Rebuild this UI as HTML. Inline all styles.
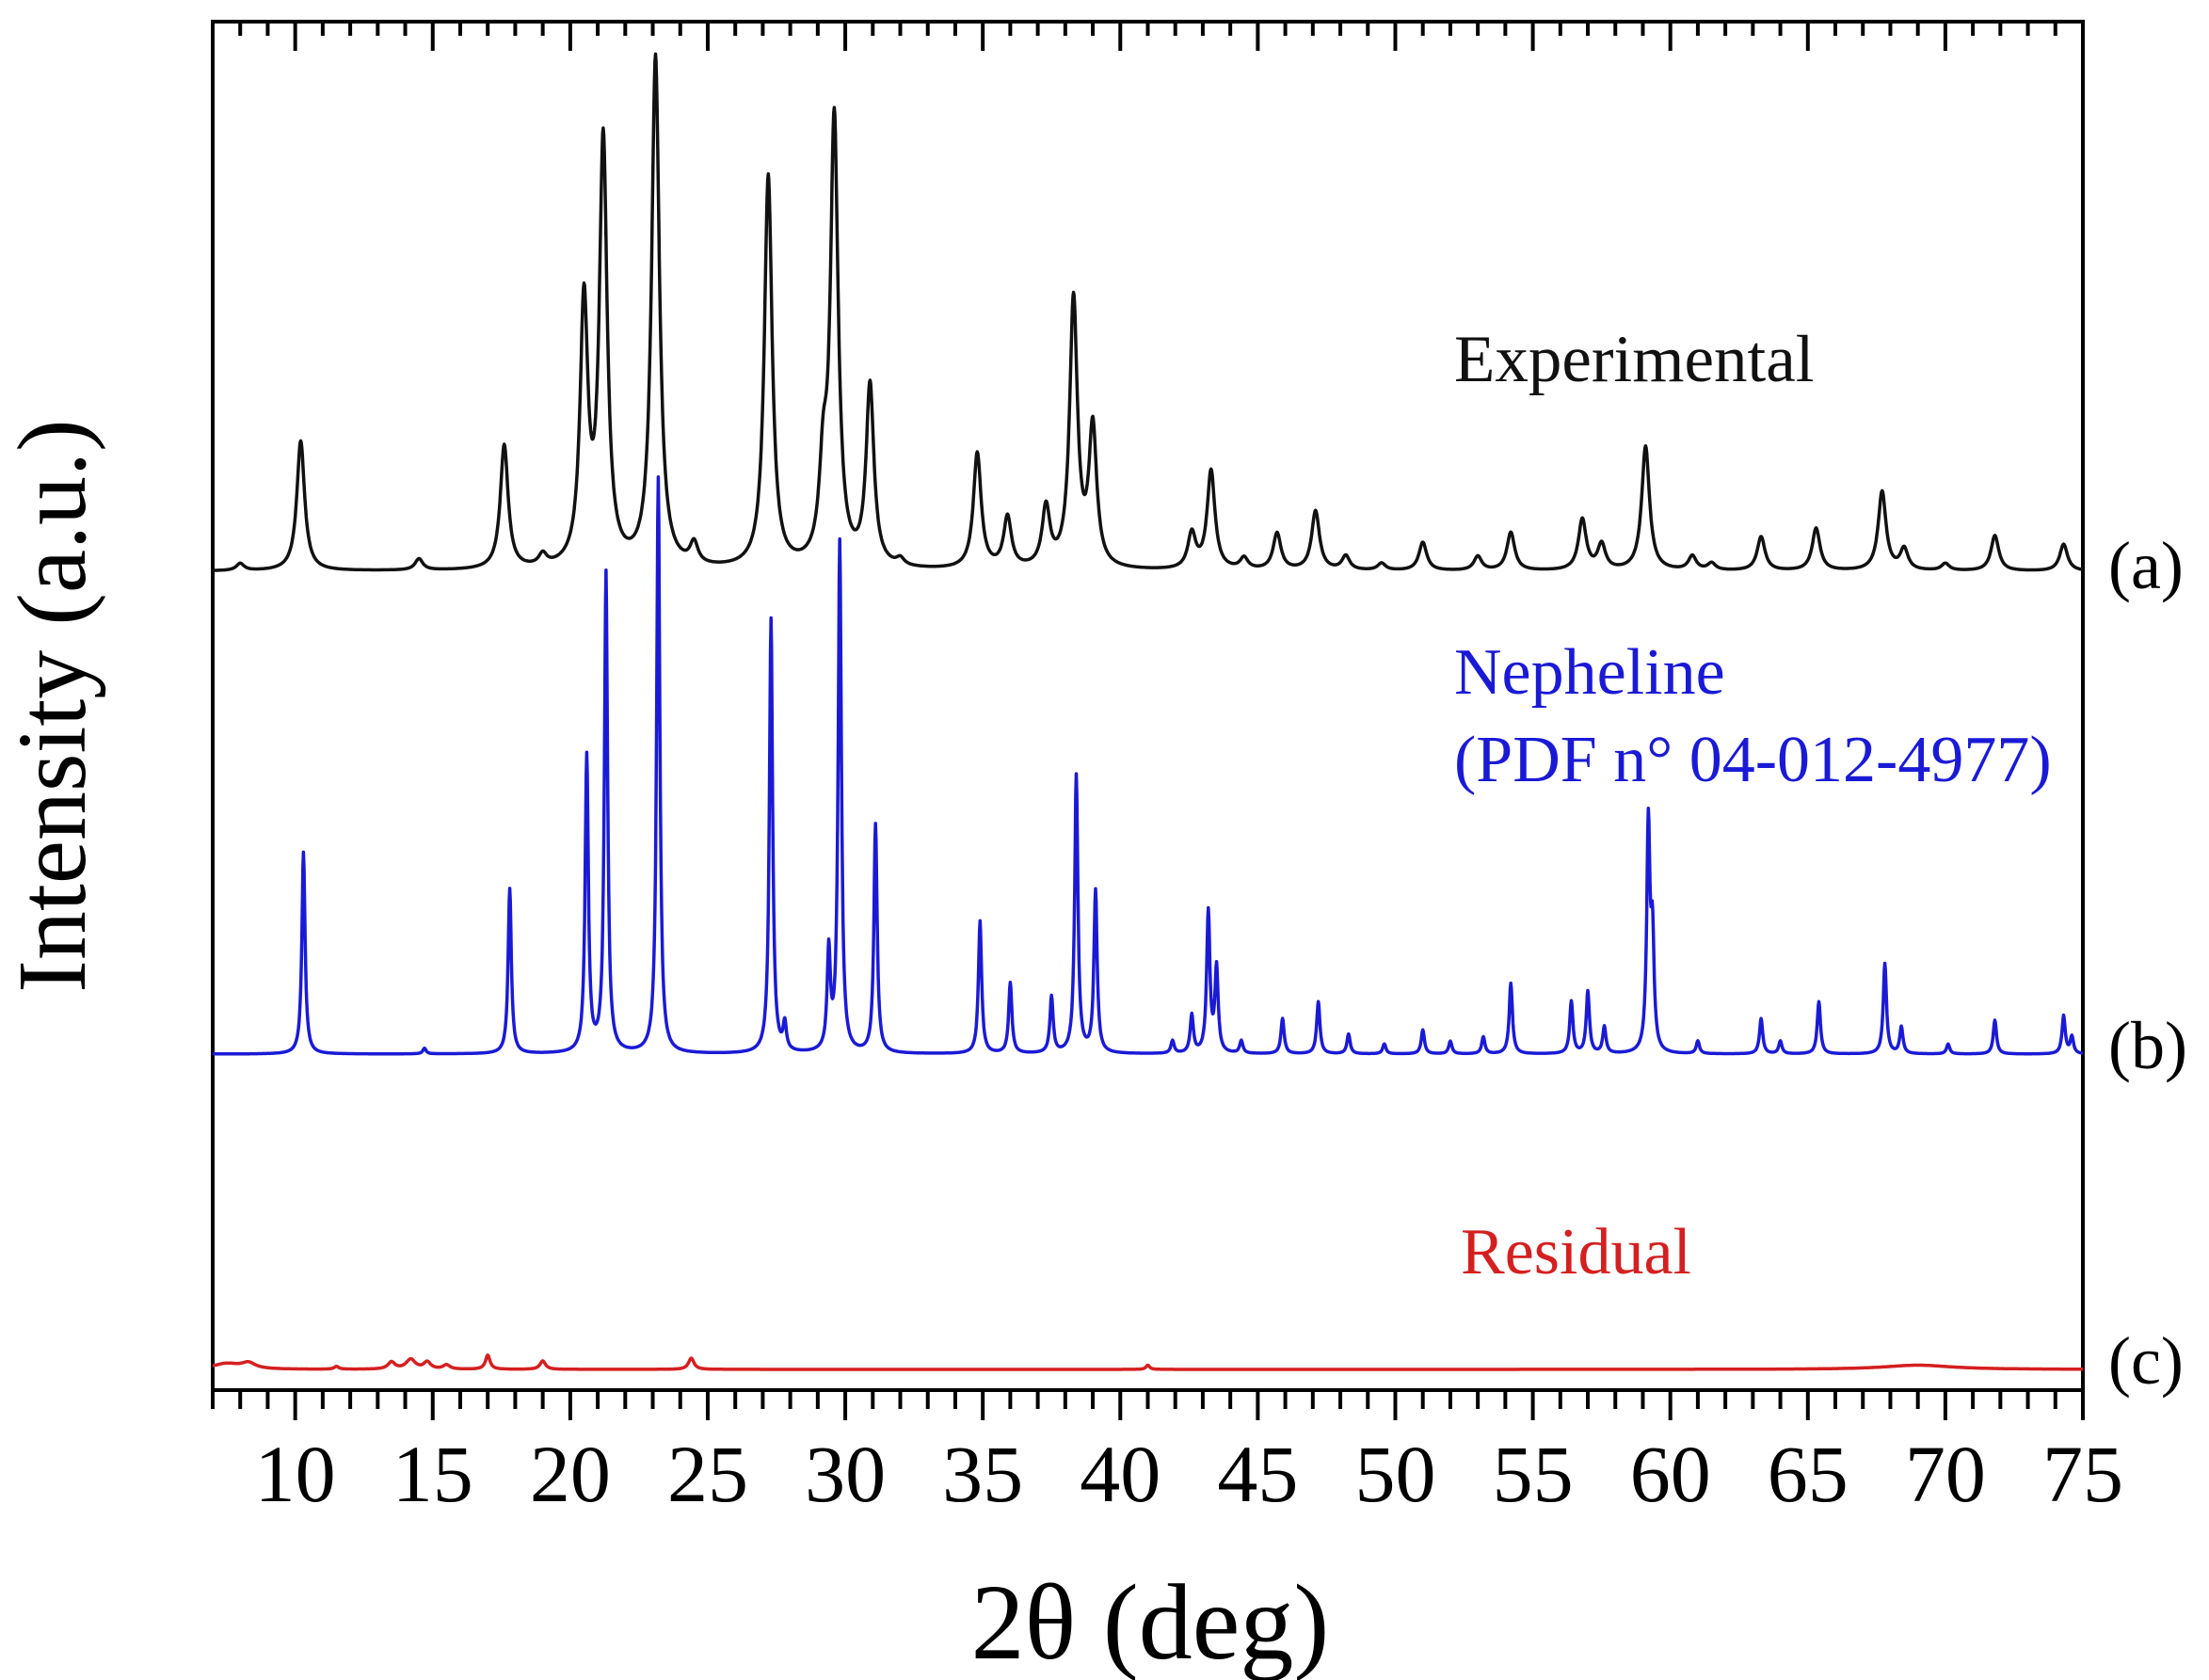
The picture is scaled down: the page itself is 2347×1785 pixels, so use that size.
<!DOCTYPE html>
<html><head><meta charset="utf-8"><style>
html,body{margin:0;padding:0;background:#fff}
svg{display:block}
text{font-family:"Liberation Serif",serif}
</style></head><body>
<svg id="chart" width="2347" height="1785" viewBox="0 0 2347 1785" xmlns="http://www.w3.org/2000/svg">
<rect x="226" y="23" width="1987" height="1454" fill="none" stroke="#000" stroke-width="4"/>
<g id="ticks"></g>
<g id="series"></g>
<text x="1222" y="1762" font-size="114" text-anchor="middle">2θ (deg)</text>
<text transform="translate(90,750) rotate(-90)" font-size="104" text-anchor="middle">Intensity (a.u.)</text>
<text x="1545" y="405" font-size="71" fill="#111">Experimental</text>
<text x="1545" y="737" font-size="70" fill="#1a1ad6">Nepheline</text>
<text x="1545" y="830" font-size="70" fill="#1a1ad6">(PDF n° 04-012-4977)</text>
<text x="1552" y="1353" font-size="70" fill="#d42020">Residual</text>
<text x="2240" y="625" font-size="72">(a)</text>
<text x="2240" y="1135" font-size="72">(b)</text>
<text x="2240" y="1470" font-size="72">(c)</text>
</svg>
<script>
const xTicks=[10,15,20,25,30,35,40,45,50,55,60,65,70,75];
const expPos=[8,10.2,14.5,17.6,19,20.5,21.2,23.1,24.5,27.2,29.2,29.6,30.9,32,34.8,35.9,37.3,38.3,39.0,42.6,43.3,44.5,45.7,47.1,48.2,49.5,51,53,54.2,56.8,57.5,59.1,60.8,61.5,63.3,65.3,67.7,68.5,70,71.8,74.3];
const expInt=[5,92,8,88,8,185,300,362,15,278,60,315,128,5,82,36,42,190,98,25,70,8,26,42,10,5,20,10,27,36,18,88,10,5,24,30,56,15,5,25,19];
const nepPos=[10.3,14.7,17.8,20.6,21.3,23.2,27.3,27.8,29.4,29.8,31.1,34.9,36.0,37.5,38.4,39.1,41.9,42.6,43.2,43.5,44.4,45.9,47.2,48.3,49.6,51,52,53.2,54.2,56.4,57.0,57.6,59.2,59.35,61,63.3,64,65.4,67.8,68.4,70.1,71.8,74.3,74.6];
const nepInt=[143,4,117,210,340,408,308,19,70,362,162,94,50,40,197,115,9,27,100,60,9,25,37,14,7,17,9,12,50,37,44,19,160,78,9,25,9,37,64,19,7,24,27,12];
const resPos=[7.5,8.3,11.5,13.5,14.2,14.8,15.5,17,19,24.4,41,69];
const resInt=[4,4,2,5,7,5,3,10,6,8,3,3];
const resWid=[0.6,0.3,0.1,0.15,0.2,0.15,0.15,0.1,0.12,0.12,0.08,1.5];
const X0=7,X1=75,PL=226,PR=2213;
function xs(v){return PL+(v-X0)*(PR-PL)/(X1-X0);}
function ys(v,base){return base-v*1.5;}
const NS='http://www.w3.org/2000/svg';
const tg=document.getElementById('ticks');
for(let v=7;v<=75;v++){
  const major=v%5===0;const x=xs(v);
  const t=document.createElementNS(NS,'line');
  
  
  t.setAttribute('x1',x);t.setAttribute('x2',x);t.setAttribute('y1',1477);t.setAttribute('y2',1477+(major?32:20));
  t.setAttribute('stroke','#000');t.setAttribute('stroke-width','4');tg.appendChild(t);
  const u=document.createElementNS(NS,'line');
  
  
  u.setAttribute('x1',x);u.setAttribute('x2',x);u.setAttribute('y1',23);u.setAttribute('y2',23+(major?31:15));
  u.setAttribute('stroke','#000');u.setAttribute('stroke-width','4');tg.appendChild(u);
}
xTicks.forEach(v=>{
  const t=document.createElementNS(NS,'text');
  
  
  t.setAttribute('x',xs(v));t.setAttribute('y',1595);t.setAttribute('font-size','86');t.setAttribute('text-anchor','middle');
  t.textContent=v;tg.appendChild(t);
});
function profile(pos,ints,w,x){let s=0;for(let i=0;i<pos.length;i++){const ww=Array.isArray(w)?w[i]:w;const d=(x-pos[i])/ww;s+=ints[i]/(1+d*d);}return s;}
function path(pos,ints,w,base){let d='';for(let x=X0;x<=X1+1e-9;x+=0.02){d+=(d?'L':'M')+xs(x).toFixed(1)+','+ys(profile(pos,ints,w,x),base).toFixed(1);}return d;}
const sg=document.getElementById('series');
function add(d,col,name){const p=document.createElementNS(NS,'path');


p.setAttribute('d',d);p.setAttribute('fill','none');p.setAttribute('stroke',col);p.setAttribute('stroke-width','3.5');p.setAttribute('stroke-linejoin','round');sg.appendChild(p);}
add(path(expPos,expInt,0.17,607),'#111','experimental-line');
add(path(nepPos,nepInt,0.07,1120),'#1a1ad6','nepheline-line');
add(path(resPos,resInt,resWid,1455),'#d42020','residual-line');
</script>
</body></html>
